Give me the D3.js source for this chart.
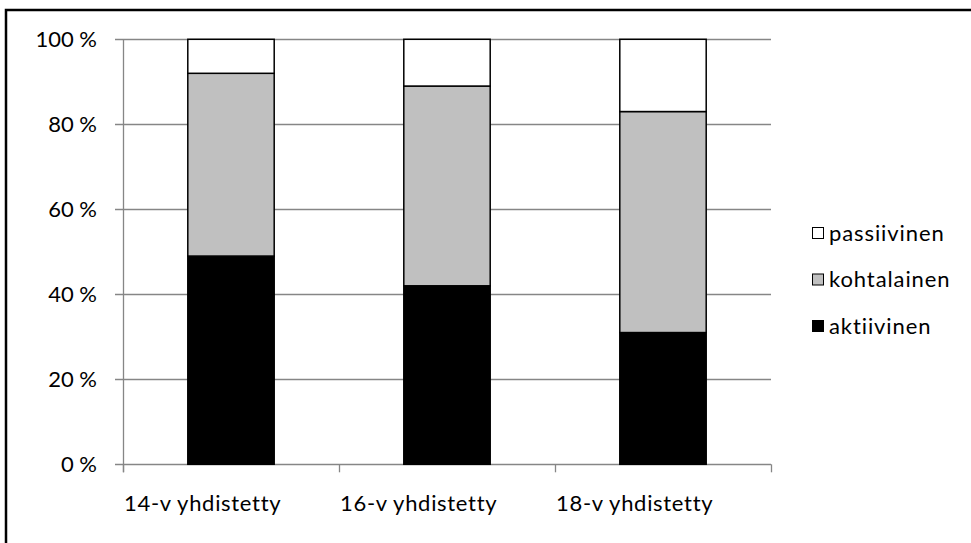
<!DOCTYPE html>
<html>
<head>
<meta charset="utf-8">
<script src="https://cdn.jsdelivr.net/npm/d3@7"></script>
<style>
  html, body { margin: 0; padding: 0; background: #fff; }
  svg { display: block; }
  text { font-family: Lato, "Open Sans", sans-serif; fill: #000; }
</style>
</head>
<body>
<svg id="chart" width="971" height="543"></svg>
<script>
// Activity level shares by age group (percent, stacked to 100)
const categories = ["14-v yhdistetty", "16-v yhdistetty", "18-v yhdistetty"];
const aktiivinen  = [49, 42, 31];
const kohtalainen = [43, 47, 52];
const passiivinen = [8, 11, 17];
const seriesNames = ["aktiivinen", "kohtalainen", "passiivinen"];
const seriesColors = ["#000000", "#c0c0c0", "#ffffff"];
const yTicks = [0, 20, 40, 60, 80, 100];

const svg = d3.select("#chart");

// Outer frame (right and bottom edges fall outside the canvas)
svg.append("rect")
  .attr("x", 6).attr("y", 10)
  .attr("width", 980).attr("height", 560)
  .attr("fill", "#fff").attr("stroke", "#000").attr("stroke-width", 2.5);

const plot = { left: 123, right: 771, top: 39.3, bottom: 464.3 };

const x = d3.scaleBand().domain(categories)
  .range([plot.left, plot.right]).paddingInner(0.6).paddingOuter(0.3);
const y = d3.scaleLinear().domain([0, 100]).range([plot.bottom, plot.top]);

// Horizontal gridlines
svg.append("g").selectAll("line").data(yTicks).join("line")
  .attr("x1", plot.left - 8).attr("x2", plot.right)
  .attr("y1", d => Math.round(y(d)) + 0.5).attr("y2", d => Math.round(y(d)) + 0.5)
  .attr("stroke", "#868686").attr("stroke-width", 1.3);

// Y axis line
svg.append("line")
  .attr("x1", plot.left + 0.5).attr("x2", plot.left + 0.5)
  .attr("y1", plot.top).attr("y2", plot.bottom + 8)
  .attr("stroke", "#868686").attr("stroke-width", 1.3);

// Category separator ticks on x axis
const step = (plot.right - plot.left) / categories.length;
const sepTicks = d3.range(categories.length + 1).map(i => plot.left + i * step);
svg.append("g").selectAll("line").data(sepTicks).join("line")
  .attr("x1", d => Math.round(d) + 0.5).attr("x2", d => Math.round(d) + 0.5)
  .attr("y1", plot.bottom).attr("y2", plot.bottom + 8)
  .attr("stroke", "#868686").attr("stroke-width", 1.3);

// Y tick labels
svg.append("g").selectAll("text").data(yTicks).join("text")
  .attr("x", 97).attr("y", d => y(d))
  .attr("dy", "0.35em")
  .attr("text-anchor", "end")
  .attr("font-size", 22)
  .text(d => d + " %");

// X category labels, starting at each category's left separator
svg.append("g").selectAll("text").data(categories).join("text")
  .attr("x", (d, i) => sepTicks[i] + 1)
  .attr("y", 511)
  .attr("text-anchor", "start")
  .attr("font-size", 22)
  .attr("letter-spacing", 0.7)
  .text(d => d);

// Stacked bars
const rows = categories.map((c, i) => ({
  cat: c,
  aktiivinen: aktiivinen[i],
  kohtalainen: kohtalainen[i],
  passiivinen: passiivinen[i]
}));
const stacked = d3.stack().keys(seriesNames)(rows);

svg.append("g").selectAll("g").data(stacked).join("g")
  .attr("fill", (d, i) => seriesColors[i])
  .selectAll("rect").data(d => d).join("rect")
    .attr("x", d => x(d.data.cat))
    .attr("width", x.bandwidth())
    .attr("y", d => y(d[1]))
    .attr("height", d => y(d[0]) - y(d[1]))
    .attr("stroke", "#000").attr("stroke-width", 1.5);

// Legend (top entry is the last stacked series)
const legendItems = seriesNames.map((n, i) => ({ name: n, color: seriesColors[i] })).reverse();
const legend = svg.append("g").selectAll("g").data(legendItems).join("g")
  .attr("transform", (d, i) => `translate(812, ${233 + i * 46.5})`);
legend.append("rect")
  .attr("x", 0.5).attr("y", -5.5).attr("width", 11).attr("height", 11)
  .attr("fill", d => d.color).attr("stroke", "#000").attr("stroke-width", 1);
legend.append("text")
  .attr("x", 17).attr("y", 0).attr("dy", "0.35em")
  .attr("font-size", 22)
  .attr("letter-spacing", 0.9)
  .text(d => d.name);
</script>
</body>
</html>
